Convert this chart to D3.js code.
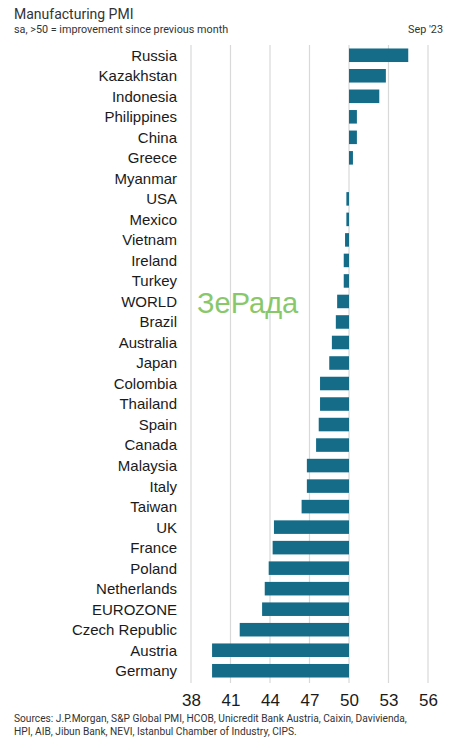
<!DOCTYPE html>
<html>
<head>
<meta charset="utf-8">
<script src="https://cdn.jsdelivr.net/npm/d3@7"></script>
<style>
  body { margin: 0; background: #fff; }
  svg { display: block; }
</style>
</head>
<body>
<div id="viz"></div>
<script>
// Data (Sep '23)
const countries = ['Russia', 'Kazakhstan', 'Indonesia', 'Philippines', 'China', 'Greece',
  'Myanmar', 'USA', 'Mexico', 'Vietnam', 'Ireland', 'Turkey', 'WORLD', 'Brazil',
  'Australia', 'Japan', 'Colombia', 'Thailand', 'Spain', 'Canada', 'Malaysia', 'Italy',
  'Taiwan', 'UK', 'France', 'Poland', 'Netherlands', 'EUROZONE', 'Czech Republic',
  'Austria', 'Germany'];
const pmi = [54.5, 52.8, 52.3, 50.6, 50.6, 50.3,
  50.0, 49.8, 49.8, 49.7, 49.6, 49.6, 49.1, 49.0,
  48.7, 48.5, 47.8, 47.8, 47.7, 47.5, 46.8, 46.8,
  46.4, 44.3, 44.2, 43.9, 43.6, 43.4, 41.7,
  39.6, 39.6];
const xTicks = [38, 41, 44, 47, 50, 53, 56];
const baseline = 50;

const title = 'Manufacturing PMI';
const subtitle = 'sa, >50 = improvement since previous month';
const dateLabel = "Sep '23";
const sources = [
  'Sources: J.P.Morgan, S&P Global PMI, HCOB, Unicredit Bank Austria, Caixin, Davivienda,',
  'HPI, AIB, Jibun Bank, NEVI, Istanbul Chamber of Industry, CIPS.'
];
const watermark = 'ЗеРада';

const width = 455;
const height = 750;
const margin = {top: 45, right: 27, bottom: 69, left: 191};
const barColor = '#156c89';
const uiFont = 'Roboto, "Noto Sans", sans-serif';
const labelFont = '"Liberation Sans", Arial, sans-serif';

const svg = d3.select('#viz')
  .append('svg')
  .attr('width', width)
  .attr('height', height)
  .attr('viewBox', [0, 0, width, height]);

const xScale = d3.scaleLinear()
  .domain([38, 56])
  .range([margin.left, width - margin.right]);

const yScale = d3.scaleBand()
  .domain(countries)
  .range([margin.top, height - margin.bottom])
  .paddingInner(0.34)
  .paddingOuter(0.17);

// Header
svg.append('text')
  .attr('x', 14).attr('y', 19)
  .attr('font-family', uiFont).attr('font-size', 14)
  .attr('fill', '#333')
  .text(title);

svg.append('text')
  .attr('x', 14).attr('y', 33)
  .attr('font-family', uiFont).attr('font-size', 10.8)
  .attr('fill', '#333')
  .text(subtitle);

svg.append('text')
  .attr('x', 443).attr('y', 33)
  .attr('text-anchor', 'end')
  .attr('font-family', uiFont).attr('font-size', 10.8)
  .attr('fill', '#333')
  .text(dateLabel);

// Gridlines
svg.append('g')
  .selectAll('line')
  .data(xTicks)
  .join('line')
    .attr('x1', d => xScale(d))
    .attr('x2', d => xScale(d))
    .attr('y1', margin.top)
    .attr('y2', height - margin.bottom + 2)
    .attr('stroke', '#d9d9d9')
    .attr('stroke-width', 1.2);

// Bars
svg.append('g')
  .selectAll('rect')
  .data(countries)
  .join('rect')
    .attr('x', (d, i) => xScale(Math.min(pmi[i], baseline)))
    .attr('y', d => yScale(d))
    .attr('width', (d, i) => Math.abs(xScale(pmi[i]) - xScale(baseline)))
    .attr('height', yScale.bandwidth())
    .attr('fill', barColor);

// Country labels
const yAxis = svg.append('g')
  .attr('transform', `translate(${margin.left - 14}, 0)`)
  .call(d3.axisLeft(yScale).tickSize(0).tickPadding(0));
yAxis.select('.domain').remove();
yAxis.selectAll('text')
  .attr('font-family', labelFont)
  .attr('font-size', 15)
  .attr('fill', '#1a1a1a')
  .attr('dy', '0.36em');

// X axis labels
const xAxis = svg.append('g')
  .attr('transform', `translate(0, ${height - margin.bottom})`)
  .call(d3.axisBottom(xScale).tickValues(xTicks).tickSize(0).tickPadding(13));
xAxis.select('.domain').remove();
xAxis.selectAll('text')
  .attr('font-family', labelFont)
  .attr('font-size', 17)
  .attr('fill', '#1a1a1a');

// Sources
svg.append('g')
  .selectAll('text')
  .data(sources)
  .join('text')
    .attr('x', 14)
    .attr('y', (d, i) => 722 + i * 12.5)
    .attr('font-family', uiFont)
    .attr('font-size', 10.2)
    .attr('fill', '#333')
    .text(d => d);

// Watermark
svg.append('text')
  .attr('x', 197).attr('y', 313)
  .attr('font-family', labelFont)
  .attr('font-size', 29)
  .attr('fill', '#7cc35a')
  .attr('opacity', 0.9)
  .text(watermark);
</script>
</body>
</html>
